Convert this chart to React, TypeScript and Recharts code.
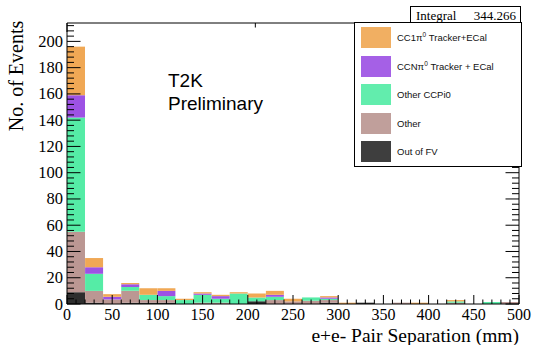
import React from "react";
import { BarChart, Bar, XAxis, YAxis } from "recharts";

// bin centres (mm), 20 mm bins from 0 to 500
const binCenters = [
  10, 30, 50, 70, 90, 110, 130, 150, 170, 190, 210, 230, 250, 270, 290, 310,
  330, 350, 370, 390, 410, 430, 450, 470, 490,
];

// stacked contributions, bottom to top
const outOfFV = [9, 1, 0, 1, 1, 1, 0, 0, 0, 0, 2, 0, 0, 0, 1, 0, 1, 0, 0, 0, 0, 0, 0, 0, 0];
const other = [46, 9, 3.5, 9, 2, 2, 0, 1, 1, 0, 0, 3, 2, 2.5, 2, 0, 0, 0, 1, 0, 0, 1, 0, 0, 1.5];
const otherCCPi0 = [87, 13, 0, 3, 4, 3, 3, 6, 3, 8, 3, 2.5, 0, 2.5, 1, 0, 0, 0, 0, 0, 0, 1, 0, 1.5, 0];
const ccNpi0 = [17, 5, 2, 2, 0, 4, 0, 1, 2, 0, 0, 1.5, 0, 0, 1, 0, 0, 0, 0, 0, 0, 0, 0, 0, 0];
const cc1pi0 = [37, 7, 2, 1, 5, 2, 1, 1, 1, 1, 3, 3, 2, 0, 1, 1, 0, 0, 0, 1, 0, 1, 0, 0, 0];

const xTicks = [
  0, 10, 20, 30, 40, 50, 60, 70, 80, 90, 100, 110, 120, 130, 140, 150, 160, 170,
  180, 190, 200, 210, 220, 230, 240, 250, 260, 270, 280, 290, 300, 310, 320, 330,
  340, 350, 360, 370, 380, 390, 400, 410, 420, 430, 440, 450, 460, 470, 480, 490, 500,
];
const yTicks = [
  0, 4, 8, 12, 16, 20, 24, 28, 32, 36, 40, 44, 48, 52, 56, 60, 64, 68, 72, 76, 80,
  84, 88, 92, 96, 100, 104, 108, 112, 116, 120, 124, 128, 132, 136, 140, 144, 148,
  152, 156, 160, 164, 168, 172, 176, 180, 184, 188, 192, 196, 200, 204, 208, 212,
];

const series = [
  { key: "outFV", name: "Out of FV", color: "#2e2e2e" },
  { key: "other", name: "Other", color: "#bb9793" },
  { key: "otherCCPi0", name: "Other CCPi0", color: "#55eca6" },
  { key: "ccN", name: "CCNπ0 Tracker + ECal", color: "#9d52e4" },
  { key: "cc1", name: "CC1π0 Tracker+ECal", color: "#f0a855" },
];

const data = binCenters.map((x, i) => ({
  x,
  outFV: outOfFV[i],
  other: other[i],
  otherCCPi0: otherCCPi0[i],
  ccN: ccNpi0[i],
  cc1: cc1pi0[i],
}));

const serif = "'Liberation Serif', 'Times New Roman', serif";
const sans = "'Liberation Sans', Arial, sans-serif";

const BottomTick = (props: any) => {
  const { x, y, payload } = props;
  const major = payload.value % 50 === 0;
  return (
    <g>
      <line x1={x} x2={x} y1={y} y2={y - (major ? 9 : 4.5)} stroke="#000" />
      {major && (
        <text x={x} y={y + 16} textAnchor="middle" fontSize={16} fontFamily={serif} fill="#000">
          {payload.value}
        </text>
      )}
    </g>
  );
};

const TopTick = (props: any) => {
  const { x, y, payload } = props;
  const major = payload.value % 50 === 0;
  return <line x1={x} x2={x} y1={y} y2={y + (major ? 9 : 4.5)} stroke="#000" />;
};

const LeftTick = (props: any) => {
  const { x, y, payload } = props;
  const major = payload.value % 20 === 0;
  return (
    <g>
      <line x1={x} x2={x + (major ? 13.5 : 7)} y1={y} y2={y} stroke="#000" />
      {major && (
        <text x={x - 4} y={y + 5.5} textAnchor="end" fontSize={16.5} fontFamily={serif} fill="#000">
          {payload.value}
        </text>
      )}
    </g>
  );
};

const RightTick = (props: any) => {
  const { x, y, payload } = props;
  const major = payload.value % 20 === 0;
  return <line x1={x} x2={x - (major ? 13.5 : 7)} y1={y} y2={y} stroke="#000" />;
};

export default function App() {
  const legendItems = [...series].reverse();
  return (
    <div style={{ position: "absolute", left: 0, top: 0, width: 534, height: 345, background: "#fff" }}>
      <BarChart
        width={534}
        height={345}
        data={data}
        margin={{ top: 22, right: 14, bottom: 40, left: 66 }}
        barCategoryGap={0}
        barGap={0}
      >
        {series.map((s) => (
          <Bar
            key={s.key}
            dataKey={s.key}
            stackId="a"
            fill={s.color}
            isAnimationActive={false}
          />
        ))}
        <XAxis
          dataKey="x"
          type="number"
          domain={[0, 500]}
          allowDataOverflow
          ticks={xTicks}
          interval={0}
          height={1}
          tickSize={0}
          tickMargin={0}
          tick={<BottomTick />}
          tickLine={false}
          axisLine={{ stroke: "#000" }}
        />
        <XAxis
          xAxisId="top"
          orientation="top"
          type="number"
          domain={[0, 500]}
          allowDataOverflow
          ticks={xTicks}
          interval={0}
          height={1}
          tickSize={0}
          tickMargin={0}
          tick={<TopTick />}
          tickLine={false}
          axisLine={{ stroke: "#000" }}
        />
        <YAxis
          type="number"
          domain={[0, 214]}
          allowDataOverflow
          ticks={yTicks}
          interval={0}
          width={1}
          tickSize={0}
          tickMargin={0}
          tick={<LeftTick />}
          tickLine={false}
          axisLine={{ stroke: "#000" }}
        />
        <YAxis
          yAxisId="right"
          orientation="right"
          type="number"
          domain={[0, 214]}
          allowDataOverflow
          ticks={yTicks}
          interval={0}
          width={1}
          tickSize={0}
          tickMargin={0}
          tick={<RightTick />}
          tickLine={false}
          axisLine={{ stroke: "#000" }}
        />
      </BarChart>

      <svg width={534} height={345} style={{ position: "absolute", left: 0, top: 0, pointerEvents: "none" }}>
        <text
          transform="translate(23, 76) rotate(-90)"
          textAnchor="middle"
          fontSize={20}
          fontFamily={serif}
          fill="#000"
        >
          No. of Events
        </text>
        <text x={519} y={342} textAnchor="end" fontSize={19.5} fontFamily={serif} fill="#000">
          e+e- Pair Separation (mm)
        </text>
        <text x={168} y={87} fontSize={19} fontFamily={sans} fill="#000">
          T2K
        </text>
        <text x={168} y={110} fontSize={19} fontFamily={sans} fill="#000">
          Preliminary
        </text>
      </svg>

      {/* stats box */}
      <div
        style={{
          position: "absolute",
          left: 410,
          top: 6,
          width: 109,
          height: 16,
          border: "1px solid #000",
          borderBottom: "none",
          background: "#fff",
          fontFamily: serif,
          fontSize: 13,
          lineHeight: "17px",
        }}
      >
        <span style={{ position: "absolute", left: 5 }}>Integral</span>
        <span style={{ position: "absolute", right: 4 }}>344.266</span>
      </div>

      {/* legend */}
      <div
        style={{
          position: "absolute",
          left: 354,
          top: 22,
          width: 166,
          height: 143,
          border: "1px solid #000",
          background: "#fff",
          fontFamily: sans,
          fontSize: 9.5,
        }}
      >
        {legendItems.map((s, i) => {
          const m = s.name.match(/^(.*π)0(.*)$/);
          return (
            <div
              key={s.key}
              style={{ position: "absolute", left: 6, top: 4 + i * 28.6, height: 21, display: "flex", alignItems: "center" }}
            >
              <div style={{ width: 30, height: 21, background: s.color, opacity: 0.92 }} />
              <span style={{ marginLeft: 6, color: "#111" }}>
                {m ? (
                  <>
                    {m[1]}
                    <sup style={{ fontSize: 6.5 }}>0</sup>
                    {m[2]}
                  </>
                ) : (
                  s.name
                )}
              </span>
            </div>
          );
        })}
      </div>
    </div>
  );
}
